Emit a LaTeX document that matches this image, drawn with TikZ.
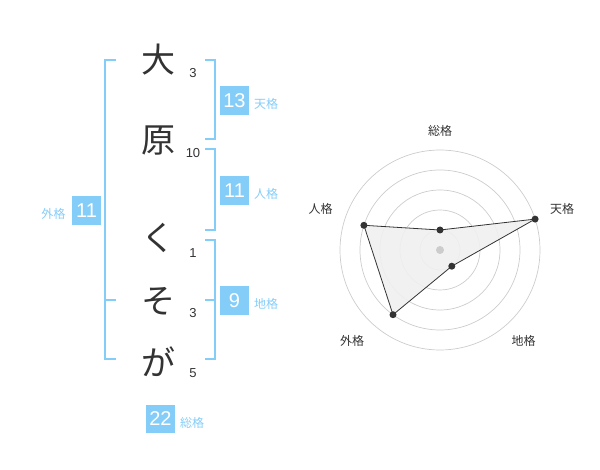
\documentclass[tikz,border=0pt]{standalone}
\usepackage{fontspec}
\setmainfont{Liberation Sans}
\newfontfamily\jp{Noto Sans CJK JP}
\definecolor{kblue}{HTML}{85CDF9}
\definecolor{ktext}{HTML}{333333}
\definecolor{kgrid}{HTML}{CCCCCC}
\begin{document}
\begin{tikzpicture}[x=1pt,y=-1pt,
  bracket/.style={draw=kblue,line width=2pt},
  chr/.style={text=ktext,font=\jp\fontsize{34}{34}\selectfont,inner sep=0},
  strk/.style={text=ktext,font=\fontsize{13}{13}\selectfont,inner sep=0},
  numbox/.style={fill=kblue,text=white,minimum width=28.5pt,minimum height=28.5pt,inner sep=0,font=\fontsize{20}{20}\selectfont},
  klabel/.style={text=kblue,font=\jp\fontsize{12}{12}\selectfont,inner sep=0},
  rlabel/.style={text=ktext,font=\jp\fontsize{12}{12}\selectfont,inner sep=0},
  grid/.style={draw=kgrid,line width=0.7pt},
  dot/.style={circle,fill=ktext,inner sep=0,minimum size=7pt}]
\useasboundingbox (0,0) rectangle (600,470);
% characters
\node[chr] (c1) at (158,60) {大};
\node[chr] (c2) at (158,141) {原};
\node[chr] (c3) at (158,238) {く};
\node[chr] (c4) at (158,301) {そ};
\node[chr] (c5) at (158,362) {が};
\node[strk] (s1) at (193,73) {3};
\node[strk] (s2) at (193,153) {10};
\node[strk] (s3) at (193,253) {1};
\node[strk] (s4) at (193,313) {3};
\node[strk] (s5) at (193,373) {5};
% left bracket (gaikaku)
\draw[bracket] (116,60) -- (105,60) -- (105,359) -- (116,359);
\draw[bracket] (105,300) -- (116,300);
\node[numbox] (gai) at (86.5,210.5) {11};
\node[klabel] (gail) at (53.5,214) {外格};
% right brackets
\draw[bracket] (205,60) -- (215,60) -- (215,139) -- (205,139);
\node[numbox] (ten) at (234.5,100.5) {13};
\node[klabel] (tenl) at (266,104) {天格};
\draw[bracket] (205,149.5) -- (215,149.5) -- (215,230) -- (205,230);
\node[numbox] (jin) at (234.5,190.5) {11};
\node[klabel] (jinl) at (266,194) {人格};
\draw[bracket] (205,240) -- (215,240) -- (215,359) -- (205,359);
\draw[bracket] (205,300) -- (215,300);
\node[numbox] (chi) at (234.5,300.5) {9};
\node[klabel] (chil) at (266,304) {地格};
\node[numbox] (sou) at (160.5,419) {22};
\node[klabel] (soul) at (192,423) {総格};
% radar
\coordinate (O) at (440,250);
\foreach \r in {20,40,60,80,100} \draw[grid] (O) circle (\r);
\path (440,250) ++(0,-20) coordinate (pS);
\path (440,250) ++(95.1,-30.9) coordinate (pT);
\path (440,250) ++(11.8,16.2) coordinate (pC);
\path (440,250) ++(-47.0,64.7) coordinate (pG);
\path (440,250) ++(-76.1,-24.7) coordinate (pJ);
\fill[black!6,opacity=0.9] (pS) -- (pT) -- (pC) -- (pG) -- (pJ) -- cycle;
\node[circle,fill=kgrid,inner sep=0,minimum size=8pt] (ctr) at (O) {};
\draw[ktext,line width=0.8pt] (pS) -- (pT) -- (pC) -- (pG) -- (pJ) -- cycle;
\foreach \p in {pS,pT,pC,pG,pJ} \node[dot] at (\p) {};
\node[rlabel] (rS) at (440,131) {総格};
\node[rlabel] (rT) at (562,209) {天格};
\node[rlabel] (rC) at (523.5,341) {地格};
\node[rlabel] (rG) at (352,341) {外格};
\node[rlabel] (rJ) at (320.5,209) {人格};
\end{tikzpicture}
\end{document}
